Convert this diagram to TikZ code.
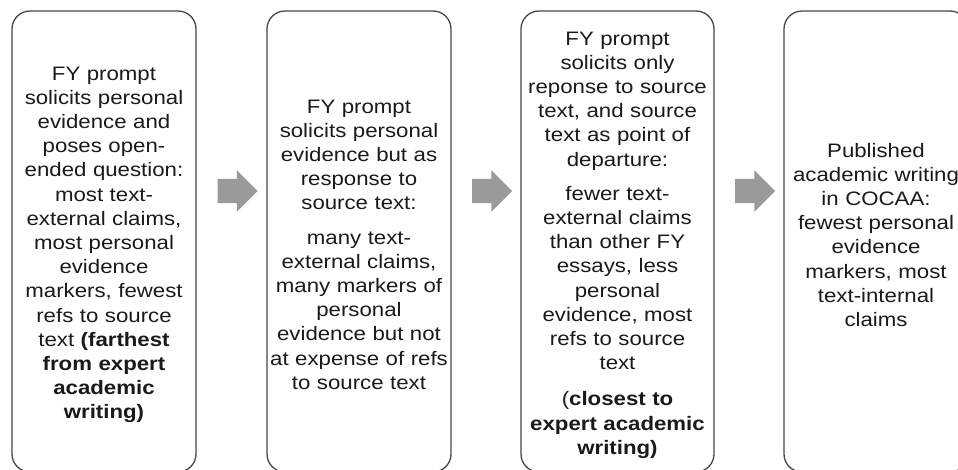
\documentclass[tikz,border=0pt]{standalone}
\usepackage{fontspec}
\setmainfont{Liberation Sans}[FakeStretch=1.14]
\usetikzlibrary{shapes.arrows,calc}
\definecolor{boxline}{HTML}{474747}
\definecolor{arrowgray}{HTML}{9A9A9A}
\definecolor{txt}{HTML}{1A1A1A}
\tikzset{
  stagebox/.style={draw=boxline, line width=1.3pt, rounded corners=18pt,
    minimum height=461pt, inner sep=0pt},
  stagetext/.style={text=txt, align=center, text width=215pt, inner sep=0pt,
    anchor=base, font=\fontsize{19.5}{24.2}\selectfont},
  blockarrow/.style={single arrow, fill=arrowgray, draw=none, inner xsep=0pt,
    inner ysep=12pt, minimum height=40pt, single arrow head extend=8.5pt,
    single arrow tip angle=90}
}
\begin{document}
\begin{tikzpicture}[x=1pt,y=-1pt]
\useasboundingbox (0,0) rectangle (958,469);
\clip (0,0) rectangle (958,469);
\fill[white] (0,0) rectangle (958,469);
% boxes
\node[stagebox, minimum width=184pt] (b1) at (104,241.5) {};
\node[stagebox, minimum width=184pt] (b2) at (359,241.5) {};
\node[stagebox, minimum width=193pt] (b3) at (617.5,241.5) {};
\node[stagebox, minimum width=184pt] (b4) at (876,241.5) {};
% texts
\node[stagetext] (t1) at (104,80) {FY prompt\\ solicits personal\\ evidence and\\ poses open-\\ ended question:\\ most text-\\ external claims,\\ most personal\\ evidence\\ markers, fewest\\ refs to source\\ text \textbf{(farthest}\\ \textbf{from expert}\\ \textbf{academic}\\ \textbf{writing)}};
\node[stagetext] (t2) at (359,113) {FY prompt\\ solicits personal\\ evidence but as\\ response to\\ source text:\\[10pt] many text-\\ external claims,\\ many markers of\\ personal\\ evidence but not\\ at expense of refs\\ to source text};
\node[stagetext] (t3) at (617.5,45) {FY prompt\\ solicits only\\ reponse to source\\ text, and source\\ text as point of\\ departure:\\[10pt] fewer text-\\ external claims\\ than other FY\\ essays, less\\ personal\\ evidence, most\\ refs to source\\ text\\[12pt] (\textbf{closest to}\\ \textbf{expert academic}\\ \textbf{writing)}};
\node[stagetext] (t4) at (876,157) {Published\\ academic writing\\ in COCAA:\\ fewest personal\\ evidence\\ markers, most\\ text-internal\\ claims};
% arrows
\node[blockarrow] (a1) at ($(b1.east)!0.5!(b2.west)+(0,-50.5)$) {};
\node[blockarrow] (a2) at ($(b2.east)!0.5!(b3.west)+(0,-50.5)$) {};
\node[blockarrow] (a3) at ($(b3.east)!0.5!(b4.west)+(0,-50.5)$) {};
\end{tikzpicture}
\end{document}
